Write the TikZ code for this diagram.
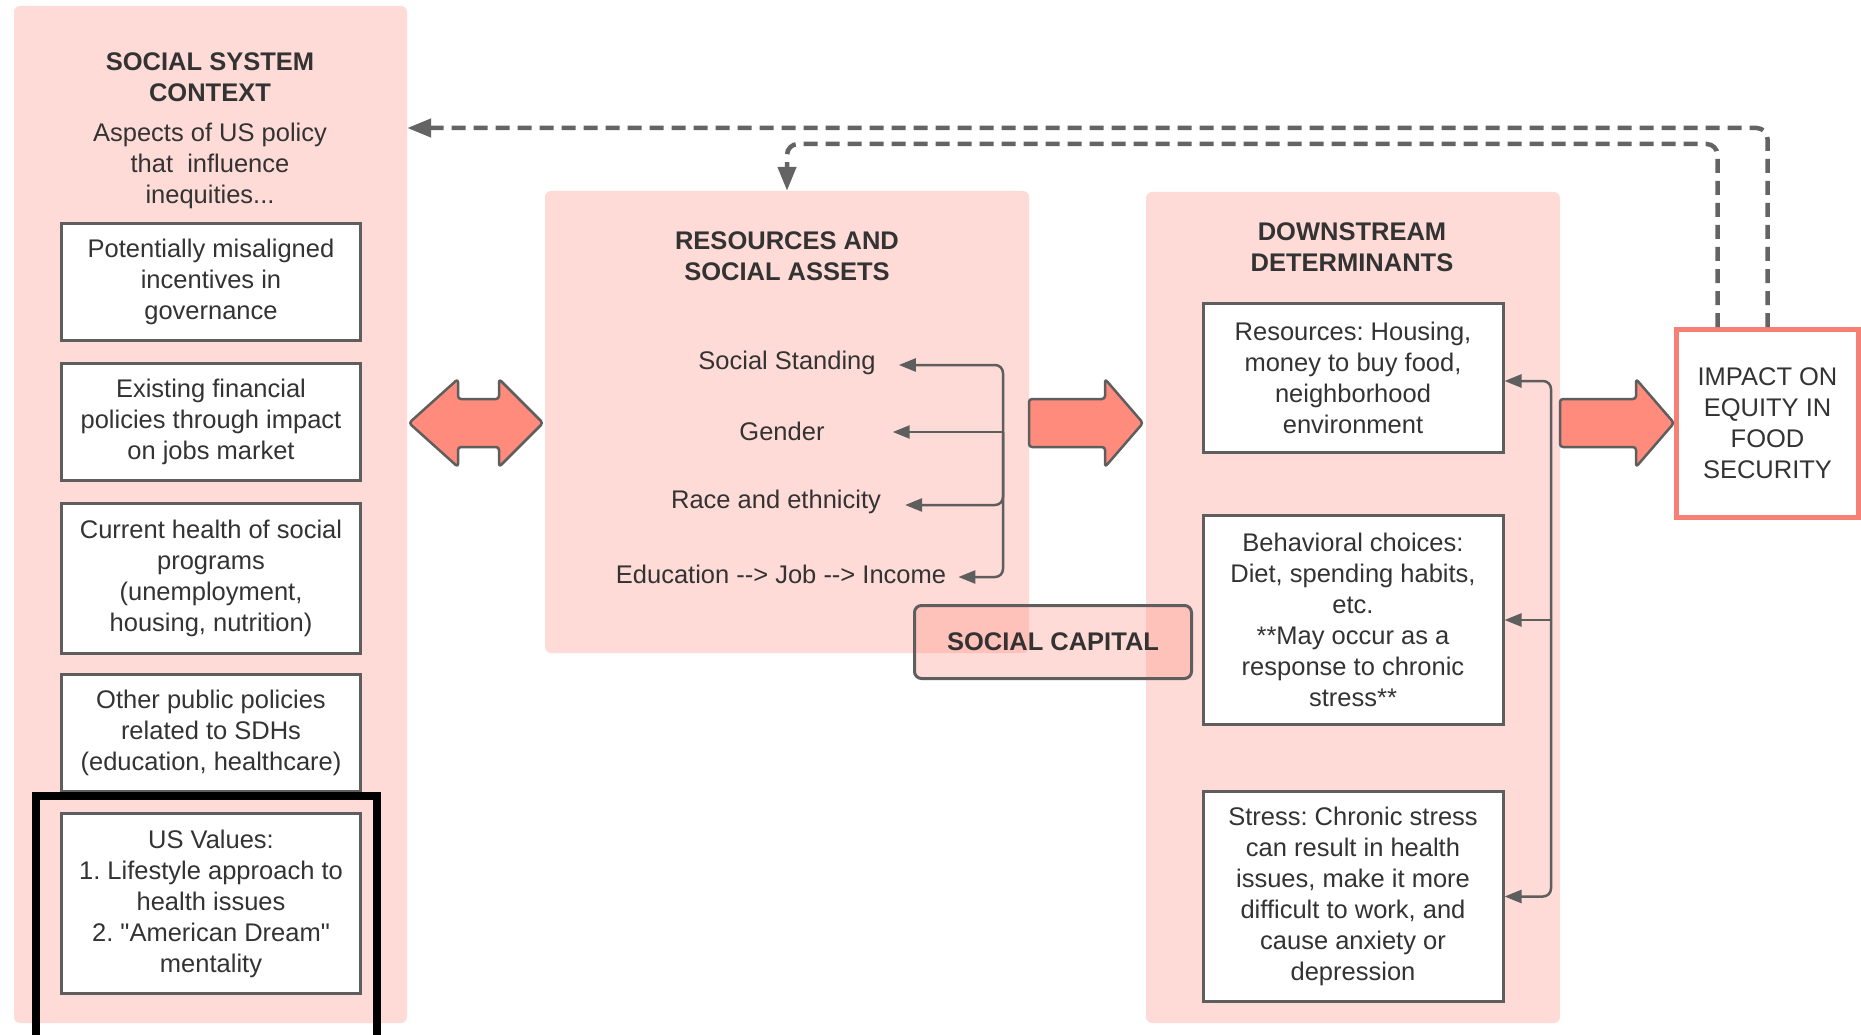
\documentclass[tikz,border=0pt]{standalone}
\usepackage{fontspec}
\setmainfont{Liberation Sans}[Ligatures=TeXOff]
\usetikzlibrary{arrows.meta}
\definecolor{panel}{RGB}{255,219,215}
\definecolor{salmon}{RGB}{255,139,124}
\definecolor{edge}{RGB}{94,94,94}
\definecolor{ink}{RGB}{51,51,51}
\definecolor{impactred}{RGB}{246,128,118}
\definecolor{dashgray}{RGB}{100,100,100}
\frenchspacing

\begin{document}
\begin{tikzpicture}[x=1pt,y=-1pt,
  every node/.style={text=ink, font=\fontsize{25.5}{31}\selectfont, align=center, inner sep=0pt},
  panelbox/.style={fill=panel, rounded corners=6pt, minimum width=#1},
  itembox/.style={draw=edge, line width=3pt, fill=white, minimum width=299pt},
  heading/.style={font=\fontsize{25.5}{31}\selectfont\bfseries},
  link/.style={draw=edge, line width=2.5pt, rounded corners=8pt, -{Triangle[length=17pt,width=13pt]}},
  feedback/.style={draw=dashgray, line width=4.5pt, dash pattern=on 14pt off 8pt, rounded corners=11pt, -{Triangle[length=24pt,width=18pt]}},
  blockarrow/.style={fill=salmon, draw=edge, line width=2.5pt, rounded corners=3pt, line join=round},
]
\useasboundingbox (0,0) rectangle (1861,1035);
\fill[white] (0,0) rectangle (1861,1035);

% three column panels
\node[panelbox=393pt, minimum height=1017pt] (ctx) at (210.5,514.5) {};
\node[panelbox=484pt, minimum height=462pt] (res) at (787,422) {};
\node[panelbox=414pt, minimum height=831pt] (down) at (1353,607.5) {};

% social system context column
\node[heading] (ctxtitle) at (210,77) {SOCIAL SYSTEM\\CONTEXT};
\node (ctxsub) at (210,166) {Aspects of US policy\\that~ influence\\inequities...};
\node[itembox, minimum height=117pt] (l1) at (211,282) {Potentially misaligned\\incentives in\\governance};
\node[itembox, minimum height=117pt] (l2) at (211,422) {Existing financial\\policies through impact\\on jobs market};
\node[itembox, minimum height=150pt] (l3) at (211,578) {Current health of social\\programs\\(unemployment,\\housing, nutrition)};
\node[itembox, minimum height=117pt] (l4) at (211,733) {Other public policies\\related to SDHs\\(education, healthcare)};
\node[itembox, minimum height=180pt] (l5) at (211,903.5) {US Values:\\1. Lifestyle approach to\\health issues\\2. "American Dream"\\mentality};

% heavy frame around the values box
\draw[line width=8pt, black] (36,796) rectangle (377,1060);

% resources and social assets column
\node[heading] (restitle) at (787,256) {RESOURCES AND\\SOCIAL ASSETS};
\node (ss) at (787,363) {Social Standing};
\node (gd) at (782,431) {Gender};
\node (re) at (776,502) {Race and ethnicity};
\node (ed) at (781,574) {Education --> Job --> Income};
\coordinate (mspine) at (1003,432);
\draw[link] (mspine) |- ([xshift=23pt,yshift=-2pt]ss.east);
\draw[link] (mspine) -- ([xshift=68pt,yshift=-1pt]gd.east);
\draw[link] (mspine) |- ([xshift=24pt,yshift=-3pt]re.east);
\draw[link] (mspine) |- ([xshift=12pt,yshift=-3pt]ed.east);

% downstream determinants column
\node[heading] (downtitle) at (1352,247) {DOWNSTREAM\\DETERMINANTS};
\node[itembox, minimum width=300pt, minimum height=149pt] (r1) at (1353,378) {Resources: Housing,\\money to buy food,\\neighborhood\\environment};
\node[itembox, minimum width=300pt, minimum height=209pt] (r2) at (1353,620) {Behavioral choices:\\Diet, spending habits,\\etc.\\**May occur as a\\response to chronic\\stress**};
\node[itembox, minimum width=300pt, minimum height=210pt] (r3) at (1353,896.5) {Stress: Chronic stress\\can result in health\\issues, make it more\\difficult to work, and\\cause anxiety or\\depression};
\coordinate (rspine) at (1551,620);
\draw[link] (rspine) |- ([yshift=-3pt]r1.east);
\draw[link] (rspine) -- (r2.east);
\draw[link] (rspine) |- (r3.east);

% social capital label overlapping the two panels
\node[draw=edge, line width=3pt, rounded corners=7pt, fill=salmon, fill opacity=0.3, text opacity=1,
      minimum width=277pt, minimum height=73pt, heading] (cap) at (1053,642) {SOCIAL CAPITAL};

% outcome box
\node[draw=impactred, line width=5pt, fill=white, minimum width=182pt, minimum height=188pt]
  (impact) at (1767.5,423.5) {IMPACT ON\\EQUITY IN\\FOOD\\SECURITY};

% block arrows between the columns
\draw[blockarrow] (409,423) -- (458,379) -- (458,399) -- (499,399) -- (499,379) -- (543,423)
  -- (499,467) -- (499,447) -- (458,447) -- (458,467) -- cycle;
\draw[blockarrow] (1029,399) -- (1105,399) -- (1105,379) -- (1143,423) -- (1105,467)
  -- (1105,447) -- (1029,447) -- cycle;
\draw[blockarrow] (1560,399) -- (1636,399) -- (1636,379) -- (1674,423) -- (1636,467)
  -- (1636,447) -- (1560,447) -- cycle;

% feedback loops from the outcome
\draw[feedback] (impact.north) -- ++(0,-199) coordinate (fbouter) -- (fbouter -| ctx.east);
\draw[feedback] ([xshift=-50pt]impact.north) -- ++(0,-183) -| (res.north);
\end{tikzpicture}
\end{document}
